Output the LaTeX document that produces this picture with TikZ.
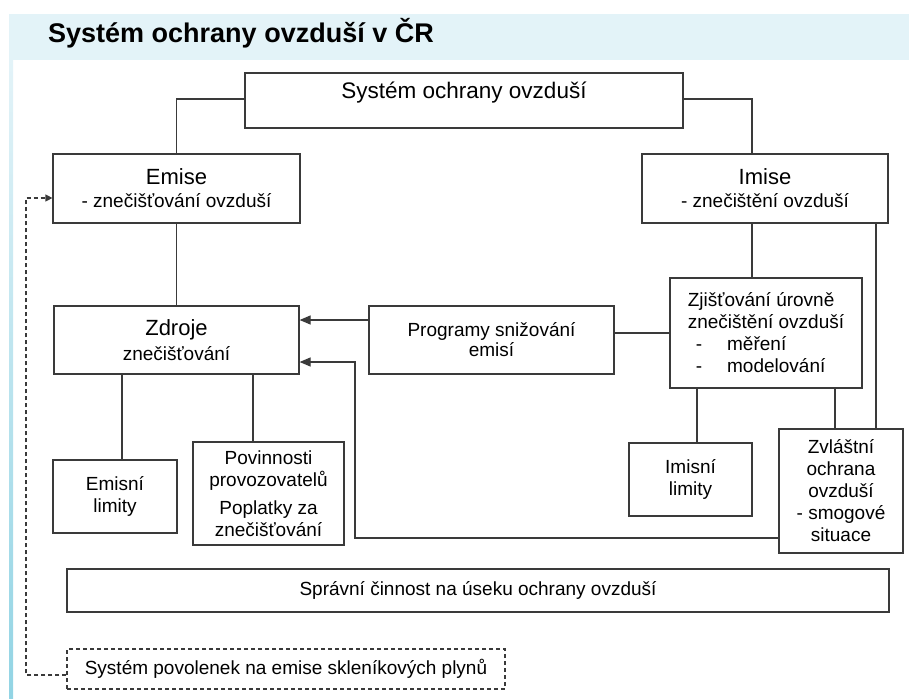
\documentclass[tikz,border=0pt]{standalone}
\usepackage{fontspec}
\setmainfont{Liberation Sans}
\usetikzlibrary{arrows.meta}
\definecolor{boxline}{HTML}{3A3A3A}
\definecolor{band}{HTML}{E3F3F8}
\definecolor{stripe}{HTML}{92D4E4}
\newcommand{\boxhead}[1]{{\fontsize{22}{22}\selectfont #1}}
\tikzset{
	box/.style={draw=boxline, line width=1.2pt, fill=white, inner sep=2pt, align=center, font=\fontsize{19}{22}\selectfont},
	link/.style={draw=boxline, line width=1.2pt},
	arr/.style={link, -{Triangle[length=11pt,width=9pt]}},
	dashlink/.style={link, dash pattern=on 4pt off 3pt},
}
\begin{document}
\begin{tikzpicture}[x=1pt,y=-1pt]
	\useasboundingbox (0,0) rectangle (909,698);
	\fill[band] (9,14) rectangle (909,60);
	\shade[top color=band, bottom color=stripe] (9,60) rectangle (13,698);
	\node[anchor=west, inner sep=0pt, font=\fontsize{27}{30}\selectfont\bfseries] (title) at (48,33) {Systém ochrany ovzduší v ČR};
	\node[box, minimum width=438, minimum height=55] (sys) at (464,100.5) {};
	\node[inner sep=0pt, font=\fontsize{22.5}{25}\selectfont] (systext) at (464,93) {Systém ochrany ovzduší};
	\node[box, minimum width=247, minimum height=69] (emise) at (176.5,188.5) {\boxhead{Emise}\\[1pt]- znečišťování ovzduší};
	\node[box, minimum width=246, minimum height=69] (imise) at (765,188.5) {\boxhead{Imise}\\[1pt]- znečištění ovzduší};
	\node[box, minimum width=245, minimum height=68] (zdroje) at (176.5,340) {\boxhead{Zdroje}\\[3pt]znečišťování};
	\node[box, minimum width=245, minimum height=68] (prog) at (491.5,340) {Programy snižování\\[-2pt]emisí};
	\node[box, align=left, minimum width=192, minimum height=110] (zjist) at (766,333) {Zjišťování úrovně\\znečištění ovzduší\\\hspace*{8pt}-\hspace{25pt}měření\\\hspace*{8pt}-\hspace{25pt}modelování};
	\node[box, minimum width=124, minimum height=73] (emisni) at (115,496.5) {Emisní\\limity};
	\node[box, minimum width=151, minimum height=103] (povin) at (268.5,493.5) {Povinnosti\\provozovatelů\\[6pt]Poplatky za\\znečišťování};
	\node[box, minimum width=123, minimum height=73] (imisni) at (690.5,479.5) {Imisní\\limity};
	\node[box, minimum width=124, minimum height=124] (zvlast) at (841,491) {Zvláštní\\ochrana\\ovzduší\\- smogové\\situace};
	\node[box, minimum width=822, minimum height=43] (sprav) at (478,590.5) {Správní činnost na úseku ochrany ovzduší};
	\node[box, dashlink, minimum width=438, minimum height=40] (povol) at (286,669) {Systém povolenek na emise skleníkových plynů};
	\draw[link] (sys.west |- 0,99) -| (emise.north);
	\draw[link] (sys.east |- 0,99) -| (imise.north -| 752,0);
	\draw[link] (emise) -- (zdroje);
	\draw[link] (imise.south -| 752,0) -- (zjist.north -| 752,0);
	\draw[link] (imise.south -| 876,0) -- (zvlast.north -| 876,0);
	\draw[link] (zjist.south -| 697,0) -- (imisni.north -| 697,0);
	\draw[link] (zjist.south -| 835,0) -- (zvlast.north -| 835,0);
	\draw[link] (prog.east |- zjist.west) -- (zjist.west);
	\draw[arr] (prog.west |- 0,320) -- (zdroje.east |- 0,320);
	\coordinate (ret) at (355,538);
	\draw[arr] (zvlast.west |- ret) -- (ret) |- (zdroje.east |- 0,362);
	\draw[link] (zdroje.south -| 122,0) -- (emisni.north -| 122,0);
	\draw[link] (zdroje.south -| 253,0) -- (povin.north -| 253,0);
	\coordinate (dl) at (26,675);
	\draw[dashlink, -{Triangle[length=7pt,width=7pt]}] (povol.west |- dl) -- (dl) |- (emise.west |- 0,198);
\end{tikzpicture}
\end{document}
